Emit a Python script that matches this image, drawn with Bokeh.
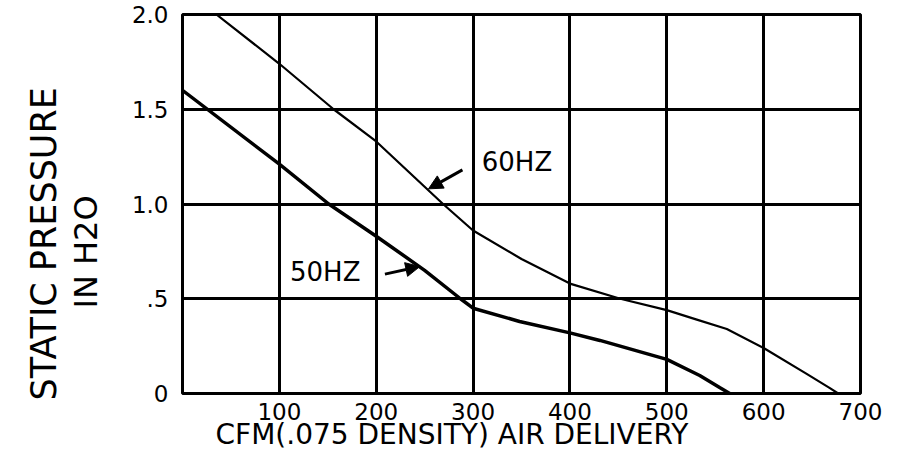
from bokeh.plotting import figure
from bokeh.models import FixedTicker, Arrow, NormalHead, ColumnDataSource, Range1d, Title
from bokeh.core.properties import value
from bokeh.embed import file_html
from bokeh.resources import INLINE

# ---- data ----
cfm_60 = [35, 100, 156, 200, 269, 300, 350, 400, 452, 500, 531, 562, 600, 644, 668, 677]
sp_60 = [2.0, 1.74, 1.5, 1.33, 1.0, 0.86, 0.71, 0.58, 0.5, 0.44, 0.39, 0.34, 0.24, 0.105, 0.03, 0.0]

cfm_50 = [0, 100, 151, 200, 250, 287, 300, 348, 400, 431, 500, 534, 555, 565]
sp_50 = [1.6, 1.21, 1.0, 0.83, 0.65, 0.5, 0.45, 0.38, 0.32, 0.28, 0.18, 0.095, 0.03, 0.0]

x_ticks = [100, 200, 300, 400, 500, 600, 700]
x_tick_labels = ["100", "200", "300", "400", "500", "600", "700"]
y_ticks = [0.0, 0.5, 1.0, 1.5, 2.0]
y_tick_labels = ["0", ".5", "1.0", "1.5", "2.0"]

curve_labels = ["60HZ", "50HZ"]
curve_label_cfm = [309, 111]
curve_label_sp = [1.22, 0.64]
arrow_tail_cfm = [289, 209]
arrow_tail_sp = [1.18, 0.63]
arrow_head_cfm = [254, 245]
arrow_head_sp = [1.08, 0.67]

x_title = "CFM(.075 DENSITY) AIR DELIVERY"
y_title_1 = "STATIC PRESSURE"
y_title_2 = "IN H2O"

FONT = "DejaVu Sans"

p = figure(width=882, height=450,
           x_range=Range1d(0, 700), y_range=Range1d(0, 2.0),
           output_backend="svg", toolbar_location=None,
           min_border_left=182, min_border_right=22,
           min_border_top=14, min_border_bottom=57)
p.background_fill_color = "white"
p.border_fill_color = "white"
p.outline_line_color = "black"
p.outline_line_width = 3

# axes
p.xaxis.ticker = FixedTicker(ticks=x_ticks)
p.xaxis.major_label_overrides = dict(zip(x_ticks, x_tick_labels))
p.yaxis.ticker = FixedTicker(ticks=y_ticks)
p.yaxis.major_label_overrides = dict(zip(y_ticks, y_tick_labels))
for ax in (p.xaxis, p.yaxis):
    ax.axis_line_color = None
    ax.major_tick_line_color = None
    ax.minor_tick_line_color = None
    ax.major_label_text_font = FONT
    ax.major_label_text_color = "black"
p.xaxis.major_label_text_font_size = "23px"
p.xaxis.major_label_standoff = 3
p.yaxis.major_label_text_font_size = "23px"
p.yaxis.major_label_standoff = 8

# grid
for g in (p.xgrid, p.ygrid):
    g.grid_line_color = "black"
    g.grid_line_width = 3
    g.grid_line_alpha = 1.0

# curves
p.line(cfm_60, sp_60, line_color="black", line_width=2.2)
p.line(cfm_50, sp_50, line_color="black", line_width=3.5)

# curve labels and arrows
p.text(x=curve_label_cfm, y=curve_label_sp, text=curve_labels,
       text_align="left", text_baseline="middle",
       text_font=value(FONT), text_font_size="26px", text_color="black")
arrow_src = ColumnDataSource(dict(x0=arrow_tail_cfm, y0=arrow_tail_sp,
                                  x1=arrow_head_cfm, y1=arrow_head_sp))
p.add_layout(Arrow(source=arrow_src, x_start="x0", y_start="y0", x_end="x1", y_end="y1",
                   line_color="black", line_width=3,
                   end=NormalHead(size=14, fill_color="black", line_color="black")))

# axis titles as side titles (so they can be offset like the hand lettering)
p.add_layout(Title(text=x_title, align="left", offset=33, standoff=-9, vertical_align="top",
                   text_font=FONT, text_font_size="28px", text_font_style="normal",
                   text_color="black"), "below")
p.add_layout(Title(text=y_title_2, align="left", offset=85, standoff=43, vertical_align="top",
                   text_font=FONT, text_font_size="32px", text_font_style="normal",
                   text_color="black"), "left")
p.add_layout(Title(text=y_title_1, align="left", offset=-7, standoff=-36, vertical_align="bottom",
                   text_font=FONT, text_font_size="35px", text_font_style="normal",
                   text_color="black"), "left")

open("out.html", "w").write(file_html(p, INLINE))
